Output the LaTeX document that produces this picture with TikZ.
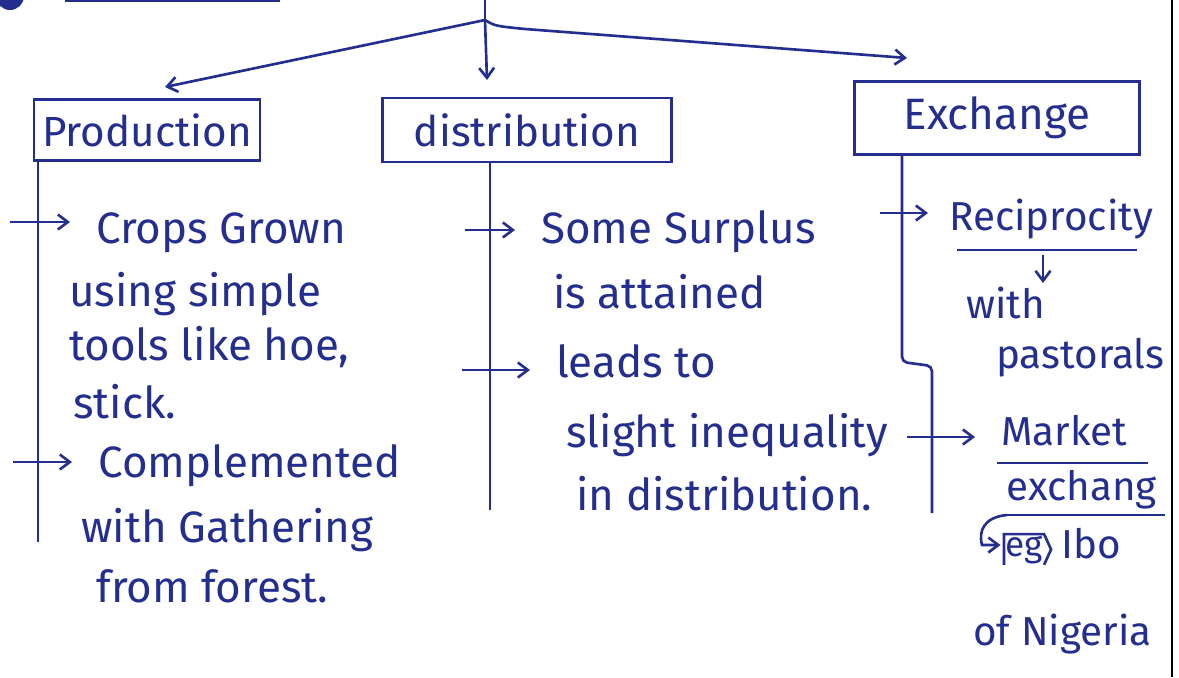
\documentclass[tikz,border=0pt]{standalone}
\usepackage{fontspec}
\setmainfont{Fira Sans}
\usetikzlibrary{arrows.meta}
\definecolor{ink}{RGB}{36,46,142}

\begin{document}
\begin{tikzpicture}[x = 0.02cm, y = -0.02cm, ink, line width = 1.5pt,
  hand/.style = {font = \fontsize{25}{30}\selectfont, text = ink, inner sep = 0pt, anchor = base west},
  small/.style = {hand, font = \fontsize{23}{28}\selectfont},
  box/.style = {draw, rectangle, inner sep = 0pt, font = \fontsize{24}{30}\selectfont},
  tip/.style = {-{Straight Barb[length = 2mm, width = 3mm]}},
  branch/.style = {tip, shorten > = 0.5cm}]
\useasboundingbox (0, 0) rectangle (1179, 677);

% what is left of the heading above
\fill (10, -4) circle (14);
\draw (65, 1) -- (280, 1);
\draw[black, line width = 1pt] (1172, 0) -- (1172, 677);

\coordinate (top) at (485, 0);
\coordinate (root) at (485, 20);
\coordinate (pTip) at (165, 87);
\coordinate (dTip) at (487, 80);
\coordinate (eTip) at (907, 58);

\node[box, minimum width = 4.52cm, minimum height = 1.22cm] (prod) at (147, 130) {Production};
\node[box, minimum width = 5.78cm, minimum height = 1.28cm] (dist) at (527, 130) {distribution};
\node[box, minimum width = 5.7cm, minimum height = 1.46cm, font = \fontsize{25}{30}\selectfont] (exch) at (997, 118) {Exchange};

\draw (top) -- (root);
\draw[tip] (root) -- (pTip);
\draw[tip] (root) -- (dTip);
\draw[tip] (root) .. controls (495, 26) .. (525, 29) -- (eTip);

% production
\coordinate (pEnd) at (38, 542);
\draw (pEnd |- prod.south) -- (pEnd);
\node[hand] (p1) at (95, 243) {Crops Grown};
\node[hand] (p1b) at (68, 306) {using simple};
\node[hand] (p1c) at (68, 360) {tools like hoe,};
\node[hand] (p1d) at (72, 418) {stick.};
\node[hand] (p2) at (97, 477) {Complemented};
\node[hand] (p2b) at (80, 542) {with Gathering};
\node[hand] (p2c) at (95, 602) {from forest.};
\coordinate (pA) at (10, 222);
\coordinate (pB) at (13, 462);
\draw[branch] (pA) -- (pA -| p1.west);
\draw[branch] (pB) -- (pB -| p2.west);

% distribution
\coordinate (dEnd) at (490, 510);
\draw (dEnd |- dist.south) -- (dEnd);
\node[hand] (d1) at (540, 243) {Some Surplus};
\node[hand] (d1b) at (552, 308) {is attained};
\node[hand] (d2) at (555, 377) {leads to};
\node[hand] (d2b) at (565, 447) {slight inequality};
\node[hand] (d2c) at (575, 510) {in distribution.};
\coordinate (dA) at (465, 230);
\coordinate (dB) at (462, 370);
\draw[branch] (dA) -- (dA -| d1.west);
\draw[branch] (dB) -- (dB -| d2.west);

% exchange
\coordinate (eEnd) at (932, 513);
\draw[rounded corners = 3pt] (exch.south -| 902, 0) -- (902, 362) -- (932, 366) -- (eEnd);
\node[small] (e1) at (948, 230) {Reciprocity};
\node[small] (e1b) at (965, 318) {with};
\node[small] (e1c) at (995, 368) {pastorals};
\node[small] (e2) at (1000, 445) {Market};
\node[small] (e2b) at (1005, 500) {exchang};
\node[small, font = \fontsize{20}{24}\selectfont] (eg) at (1004, 556) {eg};
\node[small] (ibo) at (1060, 558) {Ibo};
\node[small] (ngr) at (972, 645) {of Nigeria};
\coordinate (eA) at (880, 213);
\coordinate (eB) at (907, 437);
\draw[branch, shorten > = 0.4cm] (eA) -- (eA -| e1.west);
\draw[branch] (eB) -- (eB -| e2.west);

\draw (957, 250) -- (1137, 250);
\coordinate (eU) at (1043, 255);
\draw[tip] (eU) -- (1043, 283);
\draw (997, 463) -- (1148, 463);
\draw (1007, 515) -- (1165, 515);
\coordinate (hook) at (1007, 515);
\draw[tip] (hook) .. controls (985, 517) and (978, 530) .. (982, 545) -- ([xshift = -2pt]eg.west |- 0, 545);
\draw (eg.south west) -- (eg.north west) -- (eg.north east) -- ([xshift = 4pt]eg.east) -- (eg.south east);

\end{tikzpicture}
\end{document}
